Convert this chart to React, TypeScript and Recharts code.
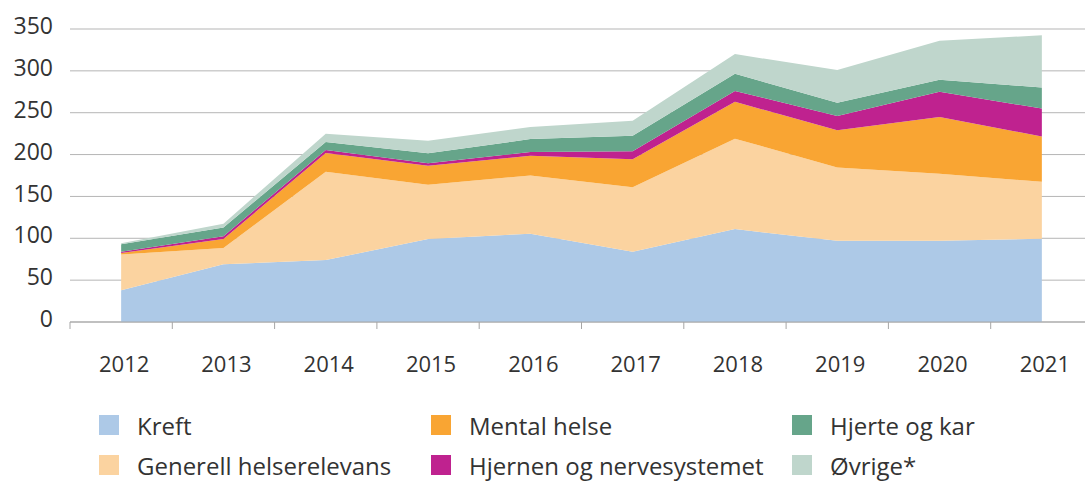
import React from "react";
import { AreaChart, Area, XAxis, YAxis, CartesianGrid } from "recharts";

const years = ["2012", "2013", "2014", "2015", "2016", "2017", "2018", "2019", "2020", "2021"];
const kreft = [38, 69, 74, 99, 105.5, 84, 111, 97, 97, 99.5];
const generell = [42.5, 19.5, 105.5, 65, 69.5, 77, 108, 87.5, 80, 68];
const mental = [2, 10.5, 22.5, 22.5, 23.5, 33.5, 44, 44.5, 68, 54];
const hjernen = [1.5, 3.5, 3.5, 3, 4.5, 9.5, 13, 17, 30, 33.5];
const hjerte = [9, 10.5, 9.5, 12, 15.5, 18.5, 20.5, 16, 14.5, 25];
const ovrige = [1, 4.5, 10, 15, 14.5, 18, 23.5, 39, 46.5, 62.5];
const yTicks = [0, 50, 100, 150, 200, 250, 300, 350];

const SERIES = [
  { key: "kreft", name: "Kreft", color: "#adc9e7" },
  { key: "generell", name: "Generell helserelevans", color: "#fbd3a0" },
  { key: "mental", name: "Mental helse", color: "#f9a533" },
  { key: "hjernen", name: "Hjernen og nervesystemet", color: "#bf228f" },
  { key: "hjerte", name: "Hjerte og kar", color: "#66a58a" },
  { key: "ovrige", name: "Øvrige*", color: "#bfd6cc" },
];

const data = years.map((year, i) => ({
  year,
  kreft: kreft[i],
  generell: generell[i],
  mental: mental[i],
  hjernen: hjernen[i],
  hjerte: hjerte[i],
  ovrige: ovrige[i],
}));

// layout
const W = 1100;
const H = 400;
const Y_W = 70;
const M_RIGHT = 7;
const PLOT_W = W - Y_W - M_RIGHT;
const BAND = PLOT_W / years.length;
const FONT = "'Open Sans', 'Noto Sans', sans-serif";
const TEXT = "#333333";

const XTick = (props: any) => {
  const { x, y, payload } = props;
  const bx = x - BAND / 2;
  return (
    <g>
      <line x1={bx} x2={bx} y1={y} y2={y + 7} stroke="#a6a6a6" strokeWidth={1} />
      <text x={x + 3} y={y + 50} textAnchor="middle" fill={TEXT} fontSize={22} fontFamily={FONT}>
        {payload.value}
      </text>
    </g>
  );
};

const legendPos = [
  { left: 99, top: 415 },
  { left: 99, top: 455 },
  { left: 431, top: 415 },
  { left: 431, top: 455 },
  { left: 792, top: 415 },
  { left: 792, top: 455 },
];

export default function App() {
  return (
    <div
      style={{
        position: "absolute",
        left: 0,
        top: 0,
        width: 1085,
        height: 481,
        overflow: "hidden",
        background: "#fff",
        fontFamily: FONT,
      }}
    >
      <AreaChart width={W} height={H} data={data} margin={{ top: 29, right: M_RIGHT, left: 0, bottom: 0 }}>
        <CartesianGrid vertical={false} stroke="#b5b5b5" strokeWidth={1} />
        <XAxis
          dataKey="year"
          padding={{ left: BAND / 2, right: BAND / 2 }}
          height={H - 29 - 293}
          tickSize={0}
          tickMargin={0}
          tickLine={false}
          axisLine={{ stroke: "#a6a6a6" }}
          tick={(p: any) => <XTick {...p} />}
          interval={0}
        />
        <YAxis
          width={Y_W}
          domain={[0, 350]}
          ticks={yTicks}
          axisLine={false}
          tickLine={false}
          tickSize={0}
          tickMargin={17}
          tick={{ fill: TEXT, fontSize: 23, fontFamily: FONT, dy: -3 }}
        />
        {SERIES.map((s) => (
          <Area
            key={s.key}
            type="linear"
            dataKey={s.key}
            name={s.name}
            stackId="1"
            stroke="none"
            fill={s.color}
            fillOpacity={1}
            isAnimationActive={false}
          />
        ))}
      </AreaChart>
      {SERIES.map((s, i) => (
        <div key={s.key} style={{ position: "absolute", left: legendPos[i].left, top: legendPos[i].top }}>
          <div style={{ position: "absolute", left: 0, top: 0, width: 20, height: 20, background: s.color }} />
          <div
            style={{
              position: "absolute",
              left: 38,
              top: -1,
              fontSize: 24,
              lineHeight: "24px",
              color: TEXT,
              whiteSpace: "nowrap",
            }}
          >
            {s.name}
          </div>
        </div>
      ))}
    </div>
  );
}
